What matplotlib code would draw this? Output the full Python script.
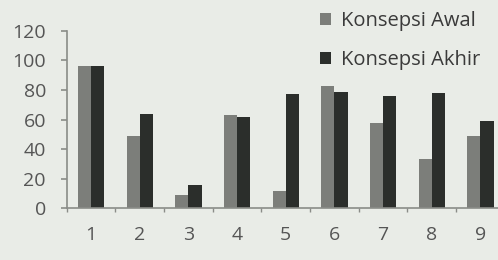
import matplotlib
matplotlib.use("Agg")
import matplotlib.pyplot as plt
import numpy as np

categories = ["1", "2", "3", "4", "5", "6", "7", "8", "9"]
awal = [96, 49, 9, 63, 12, 83, 58, 33, 49]
akhir = [96, 64, 16, 62, 77, 79, 76, 78, 59]
yticks = [0, 20, 40, 60, 80, 100, 120]

BG = "#e9ece7"
plt.rcParams["font.family"] = ["Open Sans", "DejaVu Sans"]

fig = plt.figure(figsize=(4.98, 2.6), dpi=100, facecolor=BG)
ax = fig.add_axes([0.134, 0.199, 0.8795, 0.682])
ax.set_facecolor(BG)

x = np.arange(1, len(categories) + 1)
w = 0.27
ax.bar(x - w / 2, awal, w, color="#7c7e7a", label="Konsepsi Awal")
ax.bar(x + w / 2, akhir, w, color="#2b2e2b", label="Konsepsi Akhir")

ax.set_xlim(0.5, 9.5)
ax.set_ylim(0, 120)
ax.set_yticks(yticks)
ax.set_xticks(x)
ax.set_xticklabels(categories)
ax.set_xticks(np.arange(0.5, 10, 1), minor=True)

for s in ["top", "right"]:
    ax.spines[s].set_visible(False)
for s in ["left", "bottom"]:
    ax.spines[s].set_color("#8a8c88")
    ax.spines[s].set_linewidth(1.2)

ax.tick_params(axis="x", which="major", length=0, pad=13, labelsize=14, labelcolor="#555555")
ax.tick_params(axis="x", which="minor", length=3, color="#8a8c88", width=1)
ax.tick_params(axis="y", length=4, color="#8a8c88", width=1.2, pad=11,
               labelsize=14, labelcolor="#555555")

leg = fig.legend(loc="upper left", bbox_to_anchor=(314 / 498, 1 - 5 / 260), frameon=False,
                 fontsize=14.5, handlelength=0.55, handleheight=0.55, handletextpad=0.5,
                 labelspacing=0.95, labelcolor="#3a3a3a", borderaxespad=0, borderpad=0.3)

fig.savefig("out.png", dpi=100, facecolor=BG)
